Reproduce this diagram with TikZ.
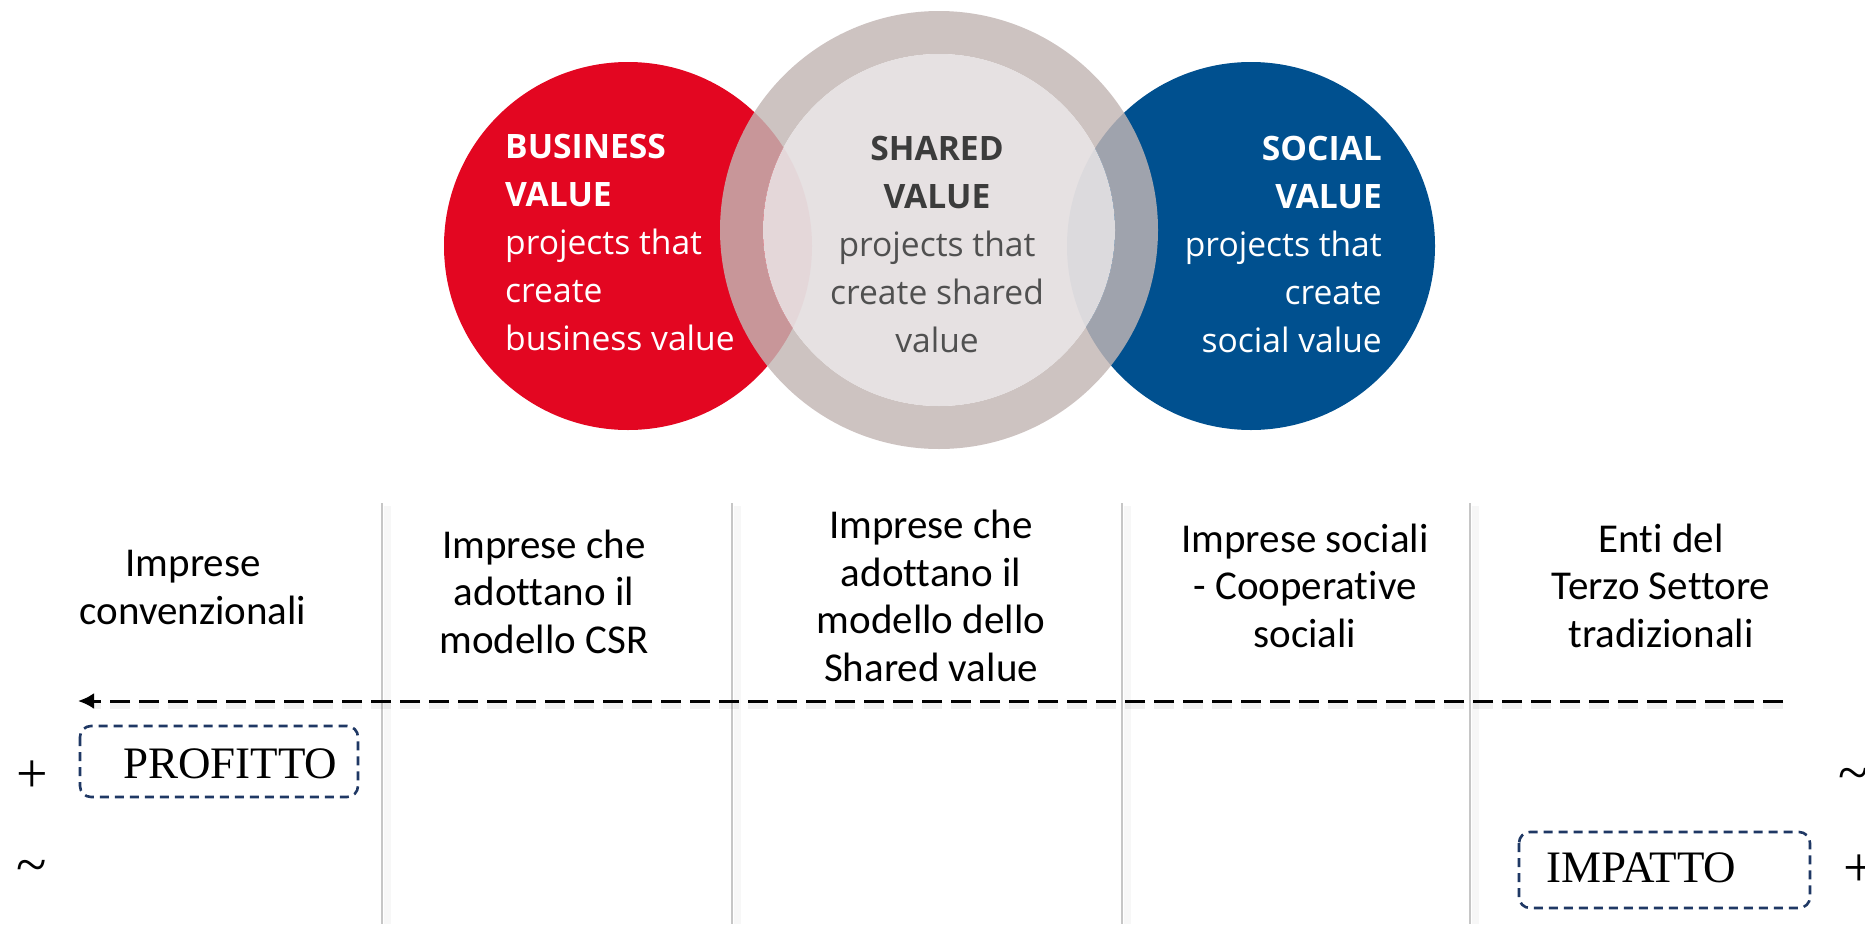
\documentclass[tikz,border=0pt]{standalone}
\usepackage{fontspec}
\setmainfont[Ligatures=CommonOff]{Carlito}
\newfontfamily\circfont{Open Sans}
\newfontfamily\handfont{Liberation Serif}
\usetikzlibrary{arrows.meta}
\definecolor{ingred}{RGB}{227,6,33}
\definecolor{ingblue}{RGB}{0,80,143}
\definecolor{ringgray}{RGB}{195,182,180}
\definecolor{innergray}{RGB}{229,224,225}
\definecolor{sharedbold}{RGB}{60,60,60}
\definecolor{sharedtext}{RGB}{80,80,80}
\definecolor{boxnavy}{RGB}{31,56,100}
\definecolor{sepgray}{RGB}{198,198,198}
\begin{document}
\begin{tikzpicture}[x=1pt,y=-1pt,
  circtext/.style={inner sep=0pt, font=\circfont\fontsize{33.6}{48}\selectfont},
  coltext/.style={inner sep=0pt, align=center, font=\fontsize{41}{47.5}\selectfont},
  handtext/.style={inner sep=0pt, font=\handfont\fontsize{45}{50}\selectfont},
  signtext/.style={inner sep=0pt, font=\handfont\fontsize{56}{60}\selectfont},
  sepline/.style={draw=sepgray, line width=1.6pt},
  sepshadow/.style={draw=black, draw opacity=0.03, line width=7pt},
  dbox/.style={draw=boxnavy, line width=2.6pt, dash pattern=on 9pt off 6pt, rounded corners=11pt},
  flowline/.style={draw=black, line width=3pt, dash pattern=on 20pt off 9pt},
  flowshadow/.style={draw=black, draw opacity=0.06, line width=6pt, dash pattern=on 20pt off 9pt}
]
\useasboundingbox (0,0) rectangle (1865,924);
\clip (0,0) rectangle (1865,924);
\fill[white] (0,0) rectangle (1865,924);

% circles
\fill[ingred] (628,246) circle[radius=184pt];
\fill[ingblue] (1251,246) circle[radius=184pt];
\fill[ringgray, fill opacity=0.82, even odd rule] (939,230) circle[radius=219pt] (939,230) circle[radius=176pt];
\fill[innergray, fill opacity=0.96] (939,230) circle[radius=176pt];

% circle texts (anchor base = last line baseline)
\node[circtext, anchor=base west, align=left, text=white] (business) at (505,350)
  {\textbf{BUSINESS}\\\textbf{VALUE}\\projects that\\create\\business value};
\node[circtext, anchor=base, align=center, text=sharedtext] (shared) at (937,352)
  {\textcolor{sharedbold}{\textbf{SHARED}}\\\textcolor{sharedbold}{\textbf{VALUE}}\\projects that\\create shared\\value};
\node[circtext, anchor=base east, align=right, text=white] (social) at (1382,352)
  {\textbf{SOCIAL}\\\textbf{VALUE}\\projects that\\create\\social value};

% separator lines
\foreach \xx/\nm in {382/s1,732/s2,1122/s3,1470/s4}{
  \coordinate (\nm top) at (\xx,503);
  \coordinate (\nm bot) at (\xx,924);
  \coordinate (\nm stop) at (\xx+5,506);
  \coordinate (\nm sbot) at (\xx+5,924);
  \draw[sepshadow] (\nm stop) -- (\nm sbot);
  \draw[sepline] (\nm top) -- (\nm bot);
}

% column texts (anchor base = last line baseline)
\node[coltext, anchor=base] (c1) at (193,624) {Imprese\\convenzionali};
\node[coltext, anchor=base] (c2) at (544,653) {Imprese che\\adottano il\\modello CSR};
\node[coltext, anchor=base] (c3) at (931,681) {Imprese che\\adottano il\\modello dello\\Shared value};
\node[coltext, anchor=base] (c4) at (1305,647) {Imprese sociali\\- Cooperative\\sociali};
\node[coltext, anchor=base] (c5) at (1661,647) {Enti del\\Terzo Settore\\tradizionali};

% dashed arrow
\coordinate (arrowStart) at (1783,701);
\coordinate (arrowEnd) at (78,701);
\coordinate (shadowStart) at (1783,706);
\coordinate (shadowEnd) at (92,706);
\draw[flowshadow] (shadowStart) -- (shadowEnd);
\draw[flowline, -{Latex[length=16pt,width=16pt]}] (arrowStart) -- (arrowEnd);

% boxes
\draw[dbox] (80,726) rectangle (358,797);
\node[handtext, anchor=base west] (profitto) at (123,778) {PROFITTO};
\draw[dbox] (1519,832) rectangle (1810,908);
\node[handtext, anchor=base west] (impatto) at (1546,882) {IMPATTO};

% signs
\node[signtext] (plusL) at (32,777) {+};
\node[signtext] (tildeL) at (32,872) {\textasciitilde};
\node[signtext] (tildeR) at (1854,780) {\textasciitilde};
\node[signtext] (plusR) at (1859,871) {+};
\end{tikzpicture}
\end{document}
